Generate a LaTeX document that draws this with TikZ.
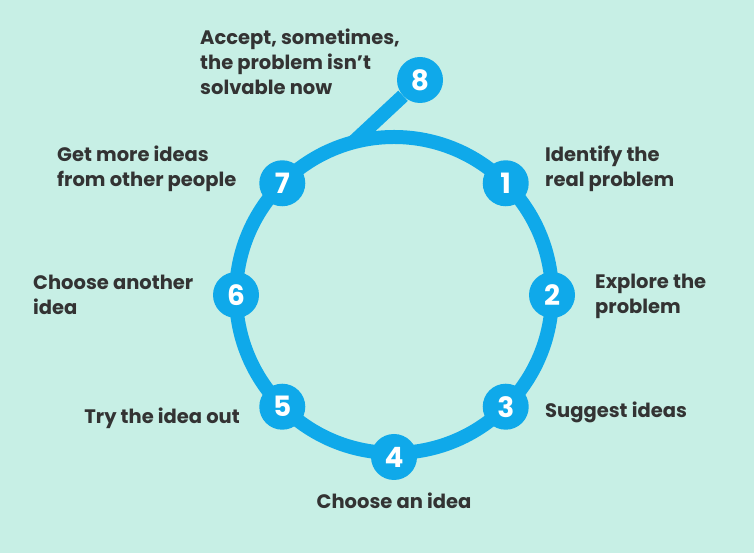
\documentclass[tikz,border=0pt]{standalone}
\usepackage{fontspec}
\setmainfont{Poppins}
\usepackage{tikz}
\usetikzlibrary{positioning,calc}
\definecolor{cyclebg}{HTML}{C7EFE5}
\definecolor{cycleblue}{HTML}{0FA9EA}
\definecolor{cycletext}{HTML}{333333}

\begin{document}
\begin{tikzpicture}[
  x=1pt, y=1pt,
  stepnum/.style={circle, fill=cycleblue, minimum size=46pt, inner sep=0pt, font=\fontsize{28}{28}\selectfont\bfseries\color{white}},
  steplbl/.style={font=\fontsize{19.5}{25}\selectfont\bfseries\color{cycletext}, align=left, inner sep=0pt},
  ring/.style={draw=cycleblue, line width=14pt},
]
\fill[cyclebg] (0,0) rectangle (754,553);
\useasboundingbox (0,0) rectangle (754,553);
\coordinate (c) at (394,258);
% the ring and the branch to step 8
\draw[ring] (c) circle (158);
\coordinate (br) at ($(c)+(105:158)$);
\node[stepnum] (n8) at (420,473) {8};
\draw[ring] (br) -- (n8);
\node[stepnum] (n1) at ($(c)+(45:158)$)   {1};
\node[stepnum] (n2) at ($(c)+(0:158)$)    {2};
\node[stepnum] (n3) at ($(c)+(-45:158)$)  {3};
\node[stepnum] (n4) at ($(c)+(-90:162)$)  {4};
\node[stepnum] (n5) at ($(c)+(-135:158)$) {5};
\node[stepnum] (n6) at ($(c)+(180:158)$)  {6};
\node[stepnum] (n7) at ($(c)+(135:158)$)  {7};
% labels
\node[steplbl, anchor=west] (l1) at (545,384) {Identify the\\real problem};
\node[steplbl, anchor=west] (l2) at (595,257) {Explore the\\problem};
\node[steplbl, anchor=west] (l3) at (545,141) {Suggest ideas};
\node[steplbl, below=12pt of n4] (l4) {Choose an idea};
\node[steplbl, anchor=east] (l5) at (240,135) {Try the idea out};
\node[steplbl, anchor=west] (l6) at (33,258) {Choose another\\idea};
\node[steplbl, anchor=west] (l7) at (57,384) {Get more ideas\\from other people};
\node[steplbl, anchor=west] (l8) at (200,491) {Accept, sometimes,\\the problem isn't\\solvable now};
\end{tikzpicture}
\end{document}
